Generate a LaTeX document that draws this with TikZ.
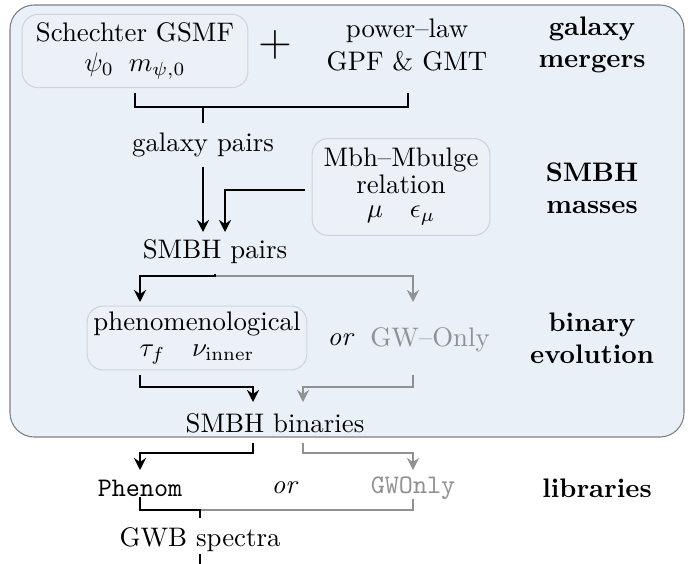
\documentclass[tikz,border=0pt]{standalone}
\usetikzlibrary{arrows.meta}
\definecolor{panelfill}{RGB}{234,240,248}
\definecolor{panelline}{RGB}{125,128,132}
\definecolor{boxfill}{RGB}{236,241,248}
\definecolor{boxline}{RGB}{205,212,222}
\definecolor{altgray}{RGB}{145,145,145}
\tikzset{
  parbox/.style={draw=boxline, fill=boxfill, rounded corners=6pt, align=center, inner sep=2pt},
  stage/.style={font=\bfseries, align=center},
  flow/.style={draw, thick, -{Stealth[length=4.5pt,width=4.5pt,inset=1.5pt]}},
  link/.style={draw, thick},
  alt/.style={draw=altgray, thick},
  altflow/.style={draw=altgray, thick, -{Stealth[length=4.5pt,width=4.5pt,inset=1.5pt]}},
}
\begin{document}
\begin{tikzpicture}[x=0.0131cm,y=-0.0131cm]
\useasboundingbox (0,0) rectangle (688,563);
\draw[fill=panelfill, draw=panelline, rounded corners=9pt] (10,5) rectangle (684,437);

% galaxy mergers
\node[parbox, minimum width=2.96cm, minimum height=0.96cm] (gsmf) at (135,51) {Schechter GSMF\\[-1pt] $\psi_0\;\;m_{\psi,0}$};
\node (plus) at (275,45) {\LARGE $+$};
\node[align=center] (gpf) at (407,45) {power--law\\ GPF \& GMT};
\node[stage] (mergers) at (592,45) {galaxy\\ mergers};
\node (galpairs) at (203,145) {galaxy pairs};

% SMBH masses
\node[parbox, minimum width=2.33cm, minimum height=1.27cm] (mbh) at (401,187) {Mbh--Mbulge\\[-2pt] relation\\[-3pt] $\mu\quad\epsilon_\mu$};
\node[stage] (masses) at (592,188) {SMBH\\ masses};
\node (bhpairs) at (215,252) {SMBH pairs};

% binary evolution
\node[parbox, minimum width=2.88cm, minimum height=0.79cm] (phen) at (197,338) {phenomenological\\[-2pt] $\tau_f\quad\nu_{\rm inner}$};
\node (or1) at (341,340) {\textit{or}};
\node[text=altgray] (gwo) at (430,340) {GW--Only};
\node[stage] (evol) at (592,338) {binary\\ evolution};
\node (binaries) at (275,423) {SMBH binaries};

% libraries
\node (phenlib) at (140,488) {\texttt{Phenom}};
\node (or2) at (285,488) {\textit{or}};
\node[text=altgray] (gwolib) at (413,488) {\texttt{GWOnly}};
\node[stage] (libs) at (597,488) {libraries};
\node (gwb) at (200,540) {GWB spectra};

% bends
\coordinate (a1) at (135,93);
\coordinate (a2) at (408,93);
\coordinate (j1) at (203,107);
\coordinate (t1) at (203,232);
\coordinate (m1) at (305,190);
\coordinate (t2) at (225,232);
\coordinate (s1) at (215,276);
\coordinate (t3) at (140,302);
\coordinate (t4) at (413,302);
\coordinate (p1) at (140,375);
\coordinate (p2) at (253,387);
\coordinate (t5) at (253,402);
\coordinate (g1) at (413,375);
\coordinate (g2) at (303,387);
\coordinate (t6) at (303,402);
\coordinate (b1) at (253,443);
\coordinate (b2) at (303,443);
\coordinate (t7) at (140,470);
\coordinate (t8) at (413,470);
\coordinate (l1) at (140,497);
\coordinate (l2) at (413,499);
\coordinate (j2) at (200,510);
\coordinate (w1) at (200,554);
\coordinate (bot) at (200,564);

\path[link] (a1) |- (j1) -| (a2);
\path[link] (j1) -- (galpairs.north);
\path[flow] (galpairs.south) -- (t1);
\path[flow] (m1) -| (t2);
\path[altflow] (s1) -| (t4);
\path[flow] (bhpairs.south) -- (s1) -| (t3);
\path[flow] (p1) |- (p2) -- (t5);
\path[altflow] (g1) |- (g2) -- (t6);
\path[altflow] (b2) |- (b2 |- 0,453) -| (t8);
\path[flow] (b1) |- (b1 |- 0,453) -| (t7);
\path[alt] (l2) |- (j2);
\path[link] (l1) |- (j2) -- (gwb.north);
\path[link] (w1) -- (bot);
\end{tikzpicture}
\end{document}
